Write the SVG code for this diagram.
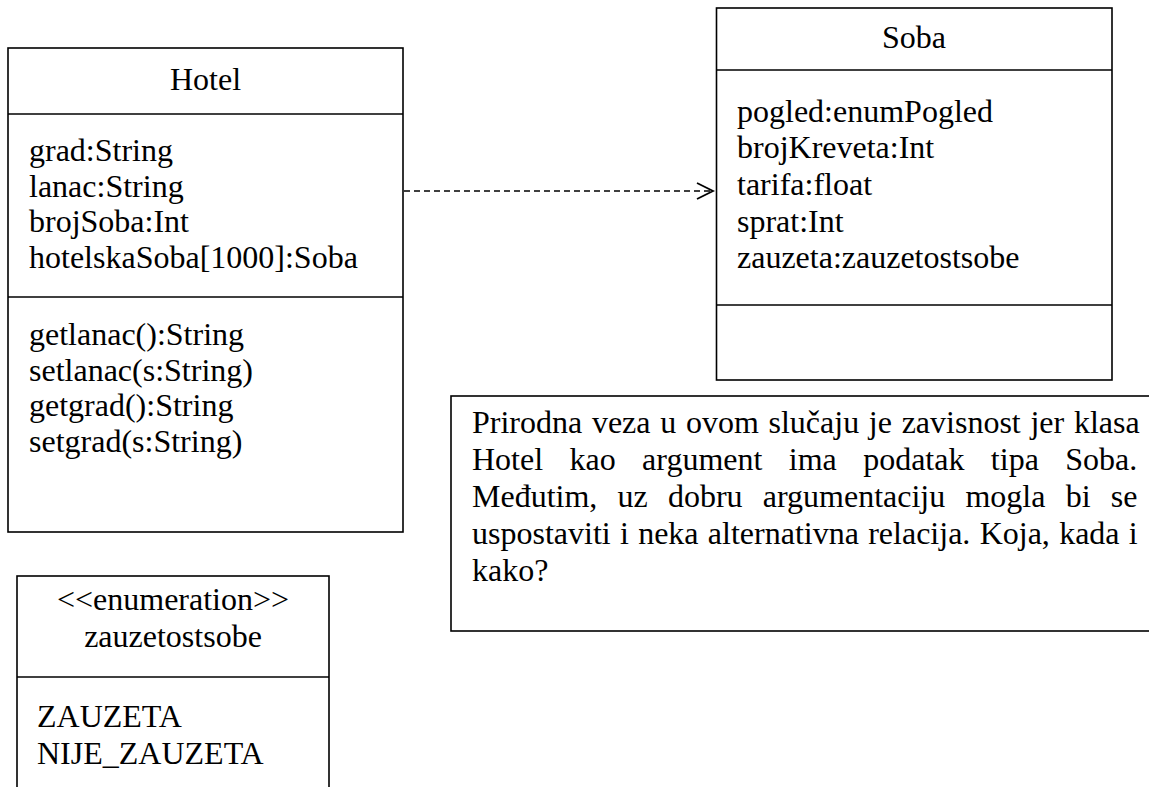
<svg xmlns="http://www.w3.org/2000/svg" width="1149" height="787" viewBox="0 0 1149 787">
  <style>
    .box { fill: #ffffff; stroke: #000000; stroke-width: 1.6; }
    .sep { stroke: #000000; stroke-width: 1.6; }
    .t { font-family: "Liberation Serif", "Times New Roman", serif; font-size: 32px; fill: #000000; }
    .c { text-anchor: middle; }
    .dep { fill: none; stroke: #000000; stroke-width: 1.6; stroke-dasharray: 6 4; }
    .head { fill: none; stroke: #000000; stroke-width: 1.8; }
  </style>
  <defs>
    <marker id="open-arrow" markerWidth="20" markerHeight="20" refX="17" refY="10" orient="auto" markerUnits="userSpaceOnUse">
      <path class="head" d="M1,2 L17,10 L1,18"/>
    </marker>
  </defs>
  <rect width="1149" height="787" fill="#ffffff"/>

  <!-- class Hotel -->
  <g id="hotel">
    <rect class="box" x="8" y="48" width="395" height="484"/>
    <line class="sep" x1="8" y1="114" x2="403" y2="114"/>
    <line class="sep" x1="8" y1="297" x2="403" y2="297"/>
    <text class="t c" x="205.5" y="90">Hotel</text>
    <text class="t" x="29" y="161">grad:String</text>
    <text class="t" x="29" y="196.5">lanac:String</text>
    <text class="t" x="29" y="232">brojSoba:Int</text>
    <text class="t" x="29" y="267.5">hotelskaSoba[1000]:Soba</text>
    <text class="t" x="29" y="345">getlanac():String</text>
    <text class="t" x="29" y="380.5">setlanac(s:String)</text>
    <text class="t" x="29" y="416">getgrad():String</text>
    <text class="t" x="29" y="451.5">setgrad(s:String)</text>
  </g>

  <!-- class Soba -->
  <g id="soba">
    <rect class="box" x="716.5" y="8" width="395.5" height="372"/>
    <line class="sep" x1="716.5" y1="70" x2="1112" y2="70"/>
    <line class="sep" x1="716.5" y1="305" x2="1112" y2="305"/>
    <text class="t c" x="914" y="48">Soba</text>
    <text class="t" x="737" y="121.7">pogled:enumPogled</text>
    <text class="t" x="737" y="158.3">brojKreveta:Int</text>
    <text class="t" x="737" y="194.9">tarifa:float</text>
    <text class="t" x="737" y="231.5">sprat:Int</text>
    <text class="t" x="737" y="268.1">zauzeta:zauzetostsobe</text>
  </g>

  <!-- enumeration zauzetostsobe -->
  <g id="zauzetostsobe">
    <rect class="box" x="17" y="576" width="312" height="230"/>
    <line class="sep" x1="17" y1="677" x2="329" y2="677"/>
    <text class="t c" x="173" y="610">&lt;&lt;enumeration&gt;&gt;</text>
    <text class="t c" x="173" y="647">zauzetostsobe</text>
    <text class="t" x="37" y="727">ZAUZETA</text>
    <text class="t" x="37" y="763.5">NIJE_ZAUZETA</text>
  </g>

  <!-- note -->
  <g id="note">
    <rect class="box" x="451" y="396" width="720" height="235"/>
    <text class="t" x="472" y="433" word-spacing="1.7">Prirodna veza u ovom slučaju je zavisnost jer klasa</text>
    <text class="t" x="472" y="470" word-spacing="18.4">Hotel kao argument ima podatak tipa Soba.</text>
    <text class="t" x="472" y="507" word-spacing="12.2">Međutim, uz dobru argumentaciju mogla bi se</text>
    <text class="t" x="472" y="544" word-spacing="1.3">uspostaviti i neka alternativna relacija. Koja, kada i</text>
    <text class="t" x="472" y="581">kako?</text>
  </g>

  <!-- connectors -->
  <g id="connectors">
    <line class="dep" x1="404" y1="191" x2="713" y2="191" marker-end="url(#open-arrow)"/>
  </g>
</svg>
